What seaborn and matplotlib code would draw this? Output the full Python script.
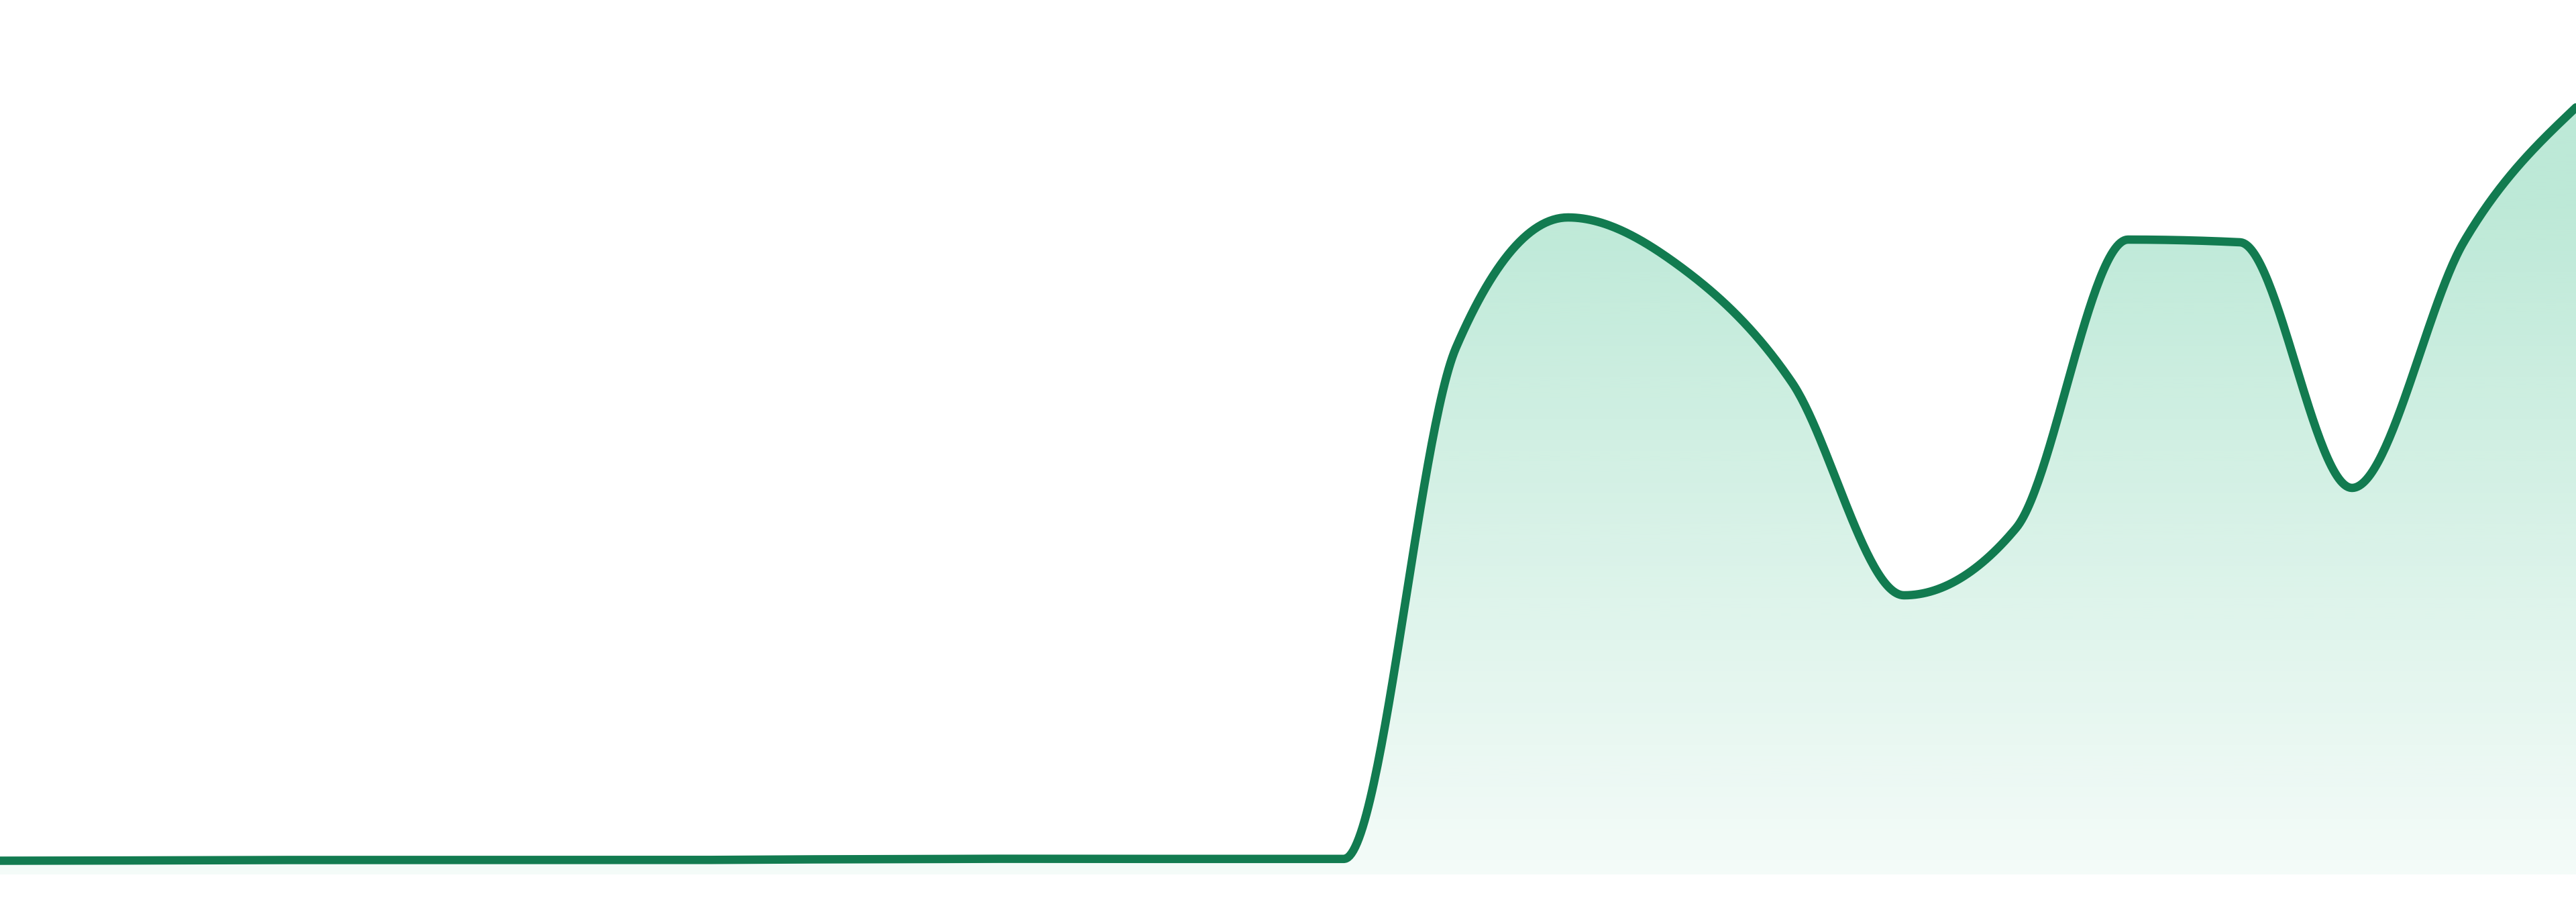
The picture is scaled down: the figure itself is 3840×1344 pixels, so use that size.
import numpy as np
import pandas as pd
import seaborn as sns
import matplotlib.pyplot as plt

# data (24 evenly spaced points)
days = list(range(24))
values = [2.05, 2.08, 2.14, 2.16, 2.16, 2.15, 2.15, 2.24, 2.28, 2.34, 2.32, 2.32,
          2.32, 78.5, 97.9, 90.6, 73.3, 41.6, 51.6, 94.6, 94.2, 57.6, 94.3, 114.3]

line_color = '#127b50'
fill_rgb = (35 / 255, 182 / 255, 122 / 255)


# monotone cubic curve (same idea as d3 curveMonotoneX)
def monotone_curve(x, y, n=60):
    x = np.asarray(x, float)
    y = np.asarray(y, float)
    h = np.diff(x)
    s = np.diff(y) / h
    t = np.zeros_like(y)
    for i in range(1, len(y) - 1):
        p = (s[i - 1] * h[i] + s[i] * h[i - 1]) / (h[i - 1] + h[i])
        t[i] = (np.sign(s[i - 1]) + np.sign(s[i])) * min(abs(s[i - 1]), abs(s[i]), 0.5 * abs(p))
    t[0] = (3 * s[0] - t[1]) / 2
    t[-1] = (3 * s[-1] - t[-2]) / 2
    xs, ys = [], []
    for i in range(len(h)):
        u = np.linspace(0, 1, n, endpoint=False)
        h00 = 2 * u**3 - 3 * u**2 + 1
        h10 = u**3 - 2 * u**2 + u
        h01 = -2 * u**3 + 3 * u**2
        h11 = u**3 - u**2
        xs.append(x[i] + u * h[i])
        ys.append(h00 * y[i] + h10 * h[i] * t[i] + h01 * y[i + 1] + h11 * h[i] * t[i + 1])
    xs.append([x[-1]])
    ys.append([y[-1]])
    return np.concatenate(xs), np.concatenate(ys)


xs, ys = monotone_curve(days, values)
df = pd.DataFrame({'day': xs, 'value': ys})

sns.set_style('white')
fig = plt.figure(figsize=(38.4, 13.44), dpi=100)
ax = fig.add_axes([0, 0, 1, 1])
ax.set_xlim(0, 23)
ax.set_ylim(-4.1, 130.3)
ax.axis('off')

# gradient area under the curve: solid-ish near the top, fading to the bottom
poly = ax.fill_between(df['day'], df['value'], 0, facecolor='none', edgecolor='none')
v = np.linspace(130.3, 0, 512)
grad = np.zeros((512, 1, 4))
grad[:, 0, :3] = fill_rgb
grad[:, 0, 3] = 0.05 + 0.25 * np.clip(v / 100.0, 0, 1)
img = ax.imshow(grad, aspect='auto', extent=[0, 23, 0, 130.3], origin='upper',
                interpolation='bilinear', zorder=1)
img.set_clip_path(poly.get_paths()[0], transform=ax.transData)

sns.lineplot(data=df, x='day', y='value', ax=ax, color=line_color,
             linewidth=9, zorder=3, estimator=None, sort=False)
ax.set_xlim(0, 23)
ax.set_ylim(-4.1, 130.3)

fig.savefig('out.png', dpi=100)
